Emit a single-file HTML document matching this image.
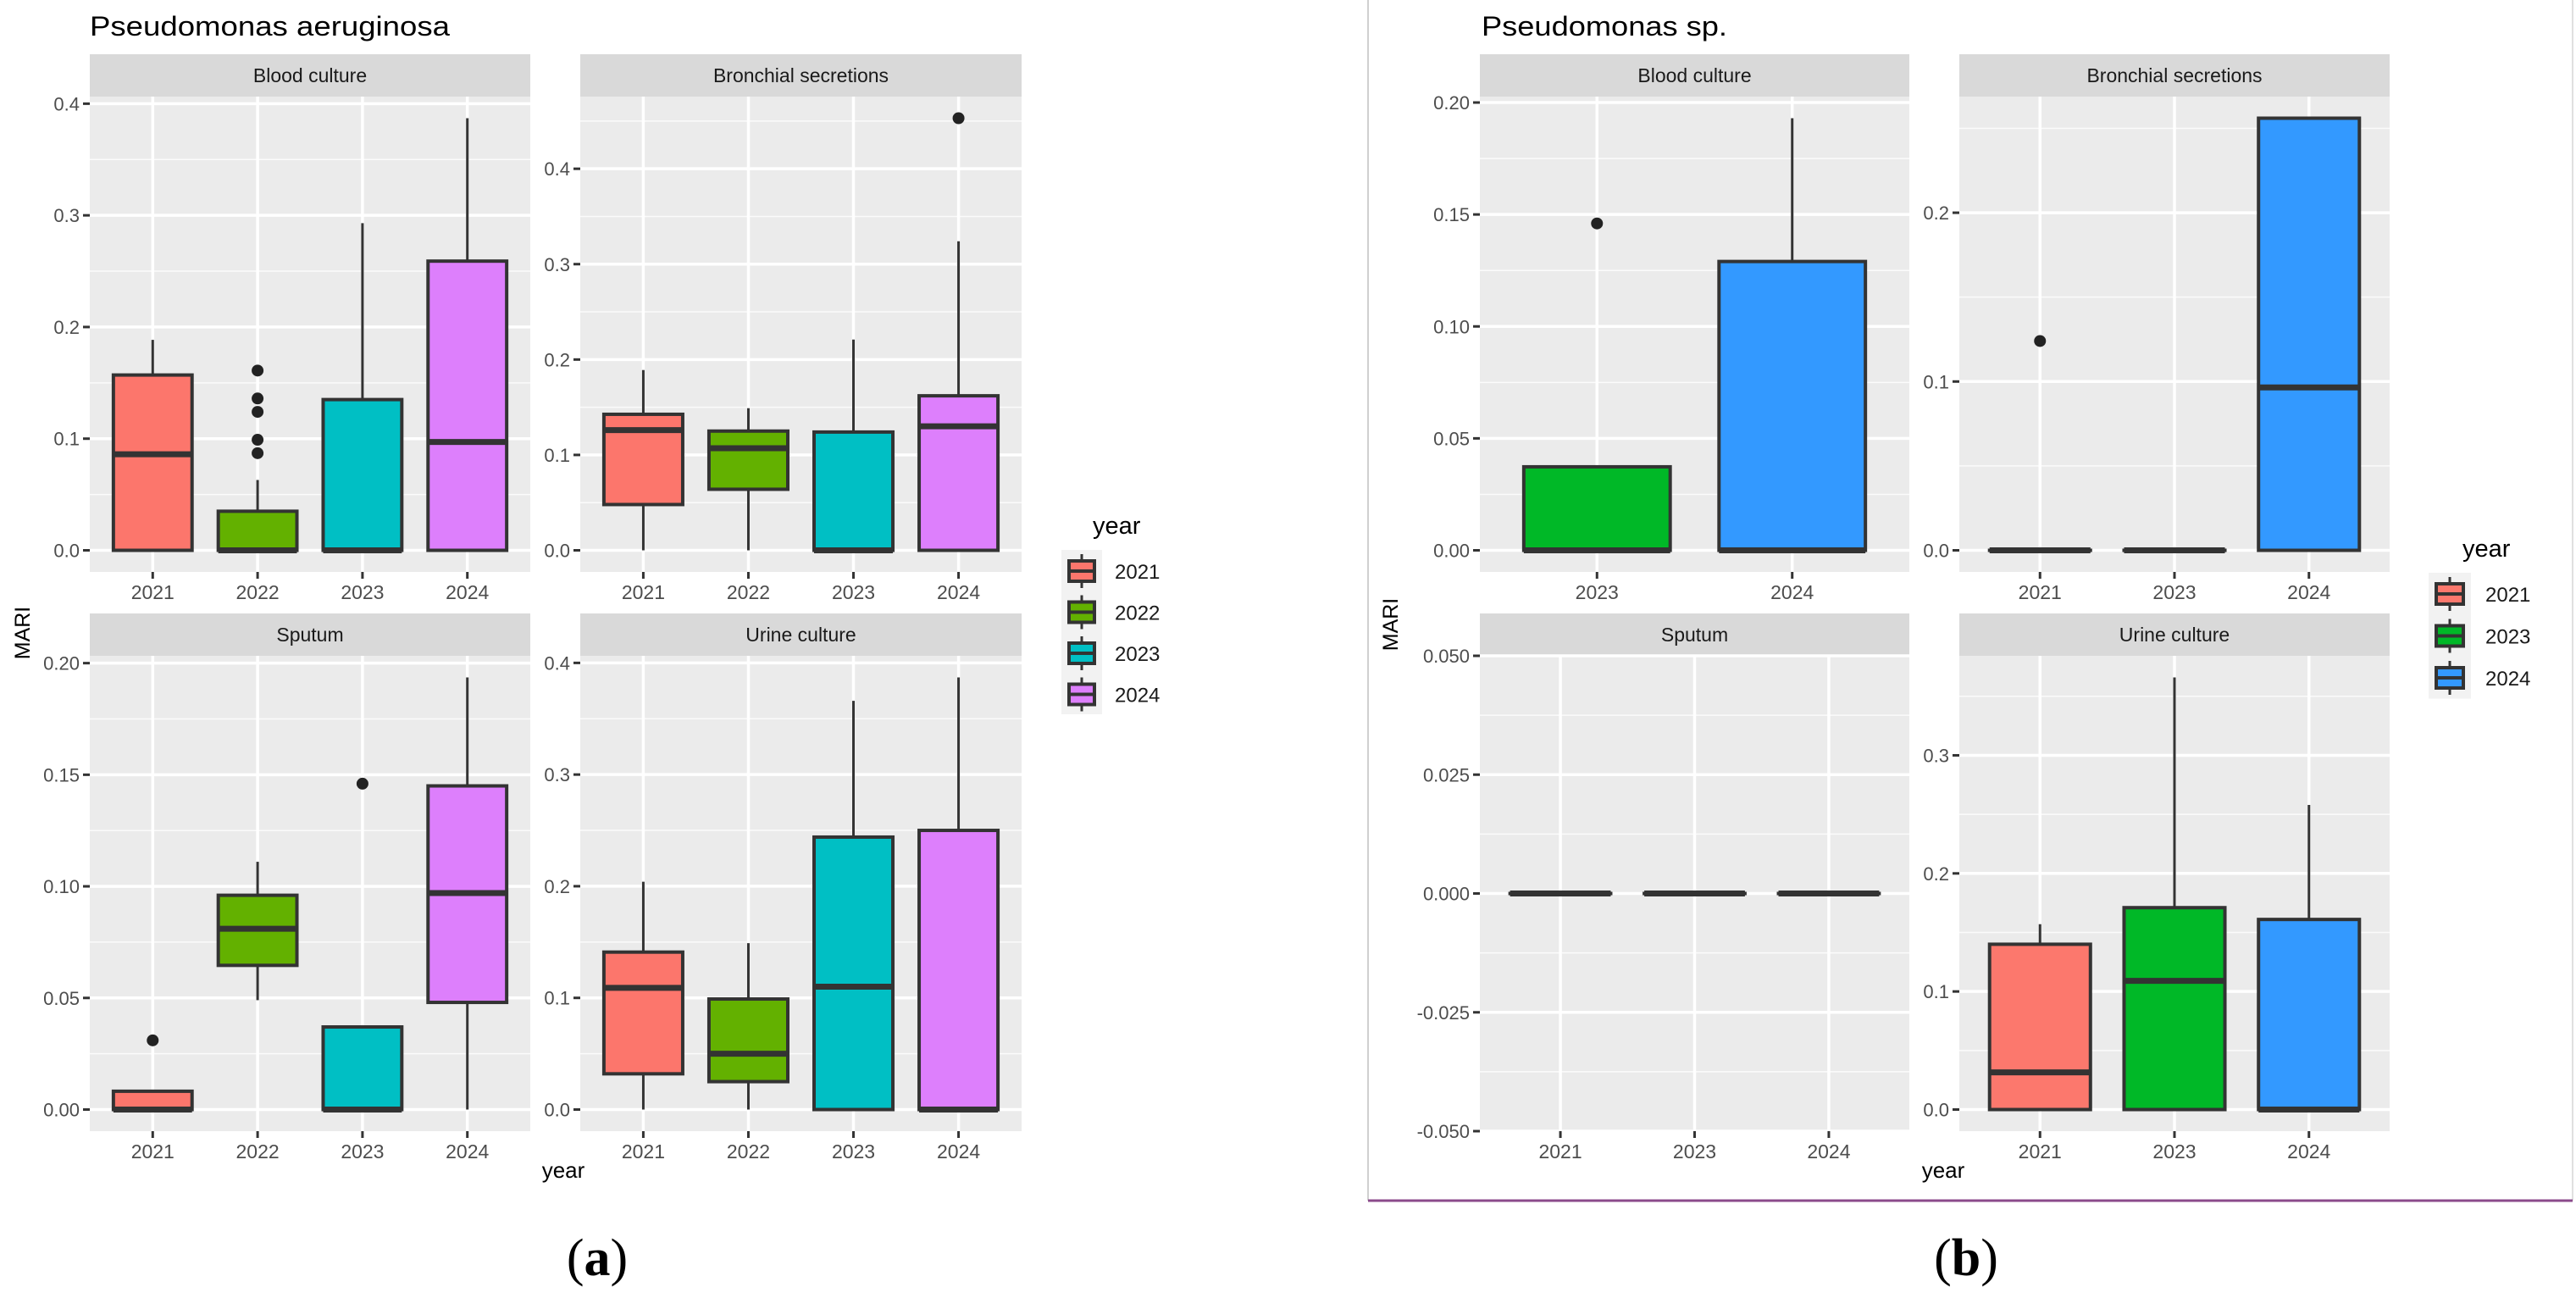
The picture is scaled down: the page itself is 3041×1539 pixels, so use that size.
<!DOCTYPE html>
<html><head><meta charset="utf-8"><style>
html,body{margin:0;padding:0;background:#fff;}
svg{display:block;}
</style></head><body>
<svg id="chart" width="3041" height="1539" viewBox="0 0 3041 1539" xmlns="http://www.w3.org/2000/svg" font-family="Liberation Sans, Arial, sans-serif">
<rect x="0" y="0" width="3041" height="1539" fill="#fff"/>
<line x1="1615" y1="0" x2="1615" y2="1417" stroke="#d0d0d0" stroke-width="2"/>
<line x1="3037" y1="0" x2="3037" y2="1417" stroke="#e0e0e0" stroke-width="2"/>
<line x1="1615" y1="1417" x2="3037" y2="1417" stroke="#8B4A8B" stroke-width="3"/>
<text x="106" y="42" font-size="32" textLength="425" lengthAdjust="spacingAndGlyphs" fill="#000">Pseudomonas aeruginosa</text>
<text x="1749" y="42" font-size="32" textLength="290" lengthAdjust="spacingAndGlyphs" fill="#000">Pseudomonas sp.</text>
<text x="665" y="1390" font-size="26" text-anchor="middle" fill="#000">year</text>
<text x="2294" y="1390" font-size="26" text-anchor="middle" fill="#000">year</text>
<text transform="translate(35,747) rotate(-90)" font-size="25" text-anchor="middle" fill="#000">MARI</text>
<text transform="translate(1650,737) rotate(-90)" font-size="25" text-anchor="middle" fill="#000">MARI</text>
<text x="705" y="1505" font-size="62" text-anchor="middle" font-family="Liberation Serif, serif" fill="#000">(<tspan font-weight="bold">a</tspan>)</text>
<text x="2321" y="1505" font-size="62" text-anchor="middle" font-family="Liberation Serif, serif" fill="#000">(<tspan font-weight="bold">b</tspan>)</text>
<g id="panels"></g>
<g id="legends"></g>
</svg>
<script>
// ---- Colors
const colorsA = {"2021":"#FC766C","2022":"#63B100","2023":"#00BFC4","2024":"#DD7FFC"};
const colorsB = {"2021":"#FC786D","2023":"#00B827","2024":"#3399FF"};

// ---- Panel (a) Blood culture
const aBloodCats = ["2021","2022","2023","2024"];
const aBloodLo  = [0, 0, 0, 0];
const aBloodQ1  = [0, 0, 0, 0];
const aBloodMed = [0.086, 0, 0, 0.097];
const aBloodQ3  = [0.157, 0.035, 0.135, 0.259];
const aBloodHi  = [0.1885, 0.063, 0.293, 0.387];
const aBloodOut = [[], [0.161, 0.136, 0.124, 0.099, 0.087], [], []];
const aBloodTicks = [0, 0.1, 0.2, 0.3, 0.4];
const aBloodTickLabels = ["0.0","0.1","0.2","0.3","0.4"];

// ---- Panel (a) Bronchial secretions
const aBronCats = ["2021","2022","2023","2024"];
const aBronLo  = [0, 0, 0, 0];
const aBronQ1  = [0.048, 0.064, 0, 0];
const aBronMed = [0.126, 0.107, 0, 0.130];
const aBronQ3  = [0.1426, 0.125, 0.124, 0.162];
const aBronHi  = [0.189, 0.149, 0.221, 0.324];
const aBronOut = [[], [], [], [0.453]];
const aBronTicks = [0, 0.1, 0.2, 0.3, 0.4];
const aBronTickLabels = ["0.0","0.1","0.2","0.3","0.4"];

// ---- Panel (a) Sputum
const aSputCats = ["2021","2022","2023","2024"];
const aSputLo  = [0, 0.049, 0, 0];
const aSputQ1  = [0, 0.0646, 0, 0.048];
const aSputMed = [0, 0.081, 0, 0.097];
const aSputQ3  = [0.0082, 0.096, 0.037, 0.145];
const aSputHi  = [0.0082, 0.111, 0.037, 0.1936];
const aSputOut = [[0.031], [], [0.146], []];
const aSputTicks = [0, 0.05, 0.10, 0.15, 0.20];
const aSputTickLabels = ["0.00","0.05","0.10","0.15","0.20"];

// ---- Panel (a) Urine culture
const aUrinCats = ["2021","2022","2023","2024"];
const aUrinLo  = [0, 0, 0, 0];
const aUrinQ1  = [0.032, 0.025, 0, 0];
const aUrinMed = [0.109, 0.050, 0.110, 0];
const aUrinQ3  = [0.141, 0.099, 0.244, 0.250];
const aUrinHi  = [0.204, 0.149, 0.366, 0.387];
const aUrinOut = [[], [], [], []];
const aUrinTicks = [0, 0.1, 0.2, 0.3, 0.4];
const aUrinTickLabels = ["0.0","0.1","0.2","0.3","0.4"];

// ---- Panel (b) Blood culture
const bBloodCats = ["2023","2024"];
const bBloodLo  = [0, 0];
const bBloodQ1  = [0, 0];
const bBloodMed = [0, 0];
const bBloodQ3  = [0.0373, 0.129];
const bBloodHi  = [0.0373, 0.193];
const bBloodOut = [[0.146], []];
const bBloodTicks = [0, 0.05, 0.10, 0.15, 0.20];
const bBloodTickLabels = ["0.00","0.05","0.10","0.15","0.20"];

// ---- Panel (b) Bronchial secretions
const bBronCats = ["2021","2023","2024"];
const bBronLo  = [0, 0, 0];
const bBronQ1  = [0, 0, 0];
const bBronMed = [0, 0, 0.0965];
const bBronQ3  = [0, 0, 0.256];
const bBronHi  = [0, 0, 0.256];
const bBronOut = [[0.124], [], []];
const bBronTicks = [0, 0.1, 0.2];
const bBronTickLabels = ["0.0","0.1","0.2"];

// ---- Panel (b) Sputum
const bSputCats = ["2021","2023","2024"];
const bSputLo  = [0, 0, 0];
const bSputQ1  = [0, 0, 0];
const bSputMed = [0, 0, 0];
const bSputQ3  = [0, 0, 0];
const bSputHi  = [0, 0, 0];
const bSputOut = [[], [], []];
const bSputTicks = [-0.05, -0.025, 0, 0.025, 0.05];
const bSputTickLabels = ["-0.050","-0.025","0.000","0.025","0.050"];

// ---- Panel (b) Urine culture
const bUrinCats = ["2021","2023","2024"];
const bUrinLo  = [0, 0, 0];
const bUrinQ1  = [0, 0, 0];
const bUrinMed = [0.0315, 0.109, 0];
const bUrinQ3  = [0.140, 0.171, 0.161];
const bUrinHi  = [0.157, 0.366, 0.258];
const bUrinOut = [[], [], []];
const bUrinTicks = [0, 0.1, 0.2, 0.3];
const bUrinTickLabels = ["0.0","0.1","0.2","0.3"];

const legendACats = ["2021","2022","2023","2024"];
const legendBCats = ["2021","2023","2024"];

const NS = "http://www.w3.org/2000/svg";
function mk(tag, attrs, parent) {
  const e = document.createElementNS(NS, tag);
  for (const k in attrs) e.setAttribute(k, attrs[k]);
  if (parent) parent.appendChild(e);
  return e;
}
const root = document.getElementById('panels');

function drawPanel(p) {
  const g = mk('g', {}, root);
  
  
  // y domain
  let vals = [].concat(p.lo, p.hi, p.q1, p.q3, p.med);
  p.out.forEach(o => vals = vals.concat(o));
  let mn = Math.min(...vals), mx = Math.max(...vals);
  let d0, d1;
  if (mx - mn < 1e-9) { d0 = mn - 0.05; d1 = mx + 0.05; }
  else { const pad = (mx - mn) * 0.05; d0 = mn - pad; d1 = mx + pad; }
  const y = v => p.y1 - (v - d0) / (d1 - d0) * (p.y1 - p.y0);
  const n = p.cats.length, unit = (p.x1 - p.x0) / (n + 0.2);
  const x = i => p.x0 + (i + 0.6) * unit;
  // strip
  const strip = mk('rect', {x:p.x0, y:p.y0-50, width:p.x1-p.x0, height:50, fill:'#D9D9D9'}, g);
  
  
  const st = mk('text', {x:(p.x0+p.x1)/2, y:p.y0-17, 'font-size':23, 'text-anchor':'middle', fill:'#1A1A1A'}, g);
  st.textContent = p.label;
  
  
  // background
  const bg = mk('rect', {x:p.x0, y:p.y0, width:p.x1-p.x0, height:p.y1-p.y0, fill:'#EBEBEB'}, g);
  
  
  // minor grid
  const step = p.ticks[1] - p.ticks[0];
  const minors = [p.ticks[0] - step/2].concat(p.ticks.map(t => t + step/2));
  minors.forEach(m => {
    if (m > d0 && m < d1) mk('line', {x1:p.x0, x2:p.x1, y1:y(m), y2:y(m), stroke:'#fff', 'stroke-width':1.5, opacity:0.8}, g);
  });
  // major grid + y ticks
  p.ticks.forEach((t, i) => {
    const yy = y(t);
    mk('line', {x1:p.x0, x2:p.x1, y1:yy, y2:yy, stroke:'#fff', 'stroke-width':3.5}, g);
    mk('line', {x1:p.x0-8, x2:p.x0, y1:yy, y2:yy, stroke:'#333', 'stroke-width':3}, g);
    const tl = mk('text', {x:p.x0-12, y:yy+8, 'font-size':22, 'text-anchor':'end', fill:'#4D4D4D'}, g);
    tl.textContent = p.tickLabels[i];
    
    
  });
  // vertical grid + x ticks
  p.cats.forEach((c, i) => {
    const xx = x(i);
    mk('line', {x1:xx, x2:xx, y1:p.y0, y2:p.y1, stroke:'#fff', 'stroke-width':3.5}, g);
    mk('line', {x1:xx, x2:xx, y1:p.y1, y2:p.y1+8, stroke:'#333', 'stroke-width':3}, g);
    const tl = mk('text', {x:xx, y:p.y1+32, 'font-size':23, 'text-anchor':'middle', fill:'#4D4D4D'}, g);
    tl.textContent = c;
    
    
  });
  // boxes
  const bw = unit * 0.75;
  p.cats.forEach((c, i) => {
    const xx = x(i);
    const bg2 = mk('g', {}, g);
    
    
    if (p.hi[i] > p.q3[i]) mk('line', {x1:xx, x2:xx, y1:y(p.q3[i]), y2:y(p.hi[i]), stroke:'#333', 'stroke-width':3}, bg2);
    if (p.lo[i] < p.q1[i]) mk('line', {x1:xx, x2:xx, y1:y(p.q1[i]), y2:y(p.lo[i]), stroke:'#333', 'stroke-width':3}, bg2);
    const top = y(p.q3[i]), bot = y(p.q1[i]);
    mk('rect', {x:xx-bw/2, y:top, width:bw, height:Math.max(bot-top, 0.01), fill:p.colors[c], stroke:'#333', 'stroke-width':4}, bg2);
    mk('line', {x1:xx-bw/2, x2:xx+bw/2, y1:y(p.med[i]), y2:y(p.med[i]), stroke:'#333', 'stroke-width':7}, bg2);
    p.out[i].forEach(o => {
      const dot = mk('circle', {cx:xx, cy:y(o), r:7, fill:'#222'}, bg2);
      
      
    });
  });
}

const A = colorsA, B = colorsB;
const TOP = [114, 675], BOT = [774, 1335];
drawPanel({name:'panel-a-blood-culture', label:'Blood culture', x0:106, x1:626, y0:TOP[0], y1:TOP[1], colors:A, cats:aBloodCats, lo:aBloodLo, q1:aBloodQ1, med:aBloodMed, q3:aBloodQ3, hi:aBloodHi, out:aBloodOut, ticks:aBloodTicks, tickLabels:aBloodTickLabels});
drawPanel({name:'panel-a-bronchial-secretions', label:'Bronchial secretions', x0:685, x1:1206, y0:TOP[0], y1:TOP[1], colors:A, cats:aBronCats, lo:aBronLo, q1:aBronQ1, med:aBronMed, q3:aBronQ3, hi:aBronHi, out:aBronOut, ticks:aBronTicks, tickLabels:aBronTickLabels});
drawPanel({name:'panel-a-sputum', label:'Sputum', x0:106, x1:626, y0:BOT[0], y1:BOT[1], colors:A, cats:aSputCats, lo:aSputLo, q1:aSputQ1, med:aSputMed, q3:aSputQ3, hi:aSputHi, out:aSputOut, ticks:aSputTicks, tickLabels:aSputTickLabels});
drawPanel({name:'panel-a-urine-culture', label:'Urine culture', x0:685, x1:1206, y0:BOT[0], y1:BOT[1], colors:A, cats:aUrinCats, lo:aUrinLo, q1:aUrinQ1, med:aUrinMed, q3:aUrinQ3, hi:aUrinHi, out:aUrinOut, ticks:aUrinTicks, tickLabels:aUrinTickLabels});
drawPanel({name:'panel-b-blood-culture', label:'Blood culture', x0:1747, x1:2254, y0:TOP[0], y1:TOP[1], colors:B, cats:bBloodCats, lo:bBloodLo, q1:bBloodQ1, med:bBloodMed, q3:bBloodQ3, hi:bBloodHi, out:bBloodOut, ticks:bBloodTicks, tickLabels:bBloodTickLabels});
drawPanel({name:'panel-b-bronchial-secretions', label:'Bronchial secretions', x0:2313, x1:2821, y0:TOP[0], y1:TOP[1], colors:B, cats:bBronCats, lo:bBronLo, q1:bBronQ1, med:bBronMed, q3:bBronQ3, hi:bBronHi, out:bBronOut, ticks:bBronTicks, tickLabels:bBronTickLabels});
drawPanel({name:'panel-b-sputum', label:'Sputum', x0:1747, x1:2254, y0:BOT[0], y1:BOT[1], colors:B, cats:bSputCats, lo:bSputLo, q1:bSputQ1, med:bSputMed, q3:bSputQ3, hi:bSputHi, out:bSputOut, ticks:bSputTicks, tickLabels:bSputTickLabels});
drawPanel({name:'panel-b-urine-culture', label:'Urine culture', x0:2313, x1:2821, y0:BOT[0], y1:BOT[1], colors:B, cats:bUrinCats, lo:bUrinLo, q1:bUrinQ1, med:bUrinMed, q3:bUrinQ3, hi:bUrinHi, out:bUrinOut, ticks:bUrinTicks, tickLabels:bUrinTickLabels});

const lroot = document.getElementById('legends');
function drawLegend(name, cats, colors, bgx, bgy, keyW, gap, titleX, titleY, labelX, firstY) {
  const g = mk('g', {}, lroot);
  
  
  const t = mk('text', {x:titleX, y:titleY, 'font-size':29, fill:'#000'}, g);
  t.textContent = 'year';
  
  
  mk('rect', {x:bgx, y:bgy, width:keyW+10, height:gap*cats.length, fill:'#F2F2F2'}, g);
  cats.forEach((c, i) => {
    const cy = firstY + i * gap, cx = bgx + 5 + keyW/2;
    const e = mk('g', {}, g);
    
    
    mk('line', {x1:cx, x2:cx, y1:cy-20, y2:cy+20, stroke:'#333', 'stroke-width':3}, e);
    mk('rect', {x:cx-keyW/2+4, y:cy-12, width:keyW-8, height:24, fill:colors[c], stroke:'#333', 'stroke-width':4}, e);
    mk('line', {x1:cx-keyW/2+4, x2:cx+keyW/2-4, y1:cy, y2:cy, stroke:'#333', 'stroke-width':4}, e);
    const l = mk('text', {x:labelX, y:cy+9, 'font-size':24, fill:'#1A1A1A'}, e);
    l.textContent = c;
  });
}
drawLegend('legend-a', legendACats, colorsA, 1253, 649, 38, 48.5, 1290, 630, 1316, 674);
drawLegend('legend-b', legendBCats, colorsB, 2867, 676, 40, 49.5, 2907, 657, 2934, 701);
</script>
</body></html>
